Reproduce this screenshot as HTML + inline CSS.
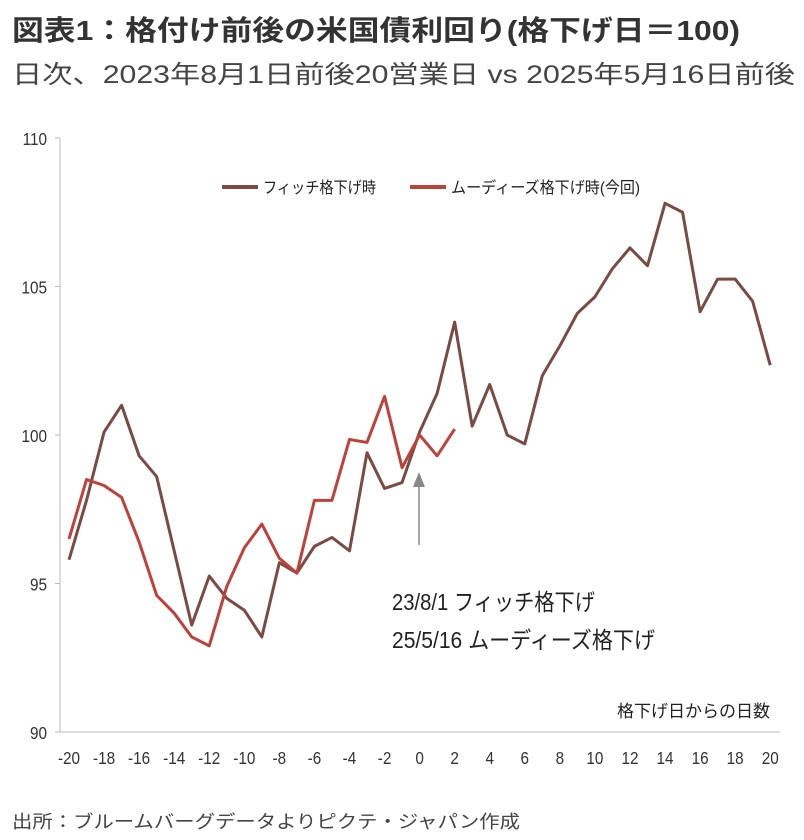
<!DOCTYPE html>
<html><head><meta charset="utf-8"><style>
body{margin:0;background:#fff;width:804px;height:835px;overflow:hidden;font-family:"Liberation Sans","Noto Sans CJK JP",sans-serif;}
</style></head><body>
<svg width="804" height="835" xmlns="http://www.w3.org/2000/svg" font-family="Liberation Sans, Noto Sans CJK JP, sans-serif">
<text x="12" y="40" font-size="28" font-weight="bold" fill="#333" textLength="728" lengthAdjust="spacingAndGlyphs">図表1：格付け前後の米国債利回り(格下げ日＝100)</text>
<text x="12" y="83" font-size="25" fill="#444" textLength="783" lengthAdjust="spacingAndGlyphs">日次、2023年8月1日前後20営業日 vs 2025年5月16日前後</text>
<g id="axes"></g>
<g id="series"></g>
<line x1="419" y1="545" x2="419" y2="485" stroke="#888" stroke-width="1.5"/>
<polygon points="413,487 425,487 419,472" fill="#888"/>
<text x="392" y="610" font-size="23" fill="#222" textLength="203" lengthAdjust="spacingAndGlyphs">23/8/1 フィッチ格下げ</text>
<text x="392" y="648" font-size="23" fill="#222" textLength="263" lengthAdjust="spacingAndGlyphs">25/5/16 ムーディーズ格下げ</text>
<text x="617" y="717" font-size="17" fill="#222" textLength="153" lengthAdjust="spacingAndGlyphs">格下げ日からの日数</text>
<line x1="222" y1="187" x2="258" y2="187" stroke="#7b4a42" stroke-width="4"/>
<text x="263" y="193" font-size="16" fill="#222" textLength="113" lengthAdjust="spacingAndGlyphs">フィッチ格下げ時</text>
<line x1="410" y1="187" x2="446" y2="187" stroke="#c0403a" stroke-width="4"/>
<text x="451" y="193" font-size="16" fill="#222" textLength="189" lengthAdjust="spacingAndGlyphs">ムーディーズ格下げ時(今回)</text>
<text x="12" y="828" font-size="18" fill="#444" textLength="508" lengthAdjust="spacingAndGlyphs">出所：ブルームバーグデータよりピクテ・ジャパン作成</text>
</svg>
<script>
const days=[];for(let d=-20;d<=20;d++)days.push(d);
const fitch=[95.8,97.8,100.1,101.0,99.3,98.6,96.1,93.6,95.25,94.5,94.1,93.2,95.7,95.35,96.25,96.55,96.1,99.4,98.2,98.4,100.1,101.4,103.8,100.3,101.7,100.0,99.7,102.0,103.0,104.1,104.65,105.6,106.3,105.7,107.8,107.5,104.15,105.25,105.25,104.5,102.35];
const moodys=[96.5,98.5,98.3,97.9,96.4,94.6,94.0,93.2,92.9,94.9,96.2,97.0,95.85,95.35,97.8,97.8,99.85,99.75,101.3,98.9,100.0,99.3,100.2];
const yTicks=[90,95,100,105,110];
const xTicks=[-20,-18,-16,-14,-12,-10,-8,-6,-4,-2,0,2,4,6,8,10,12,14,16,18,20];
const NS="http://www.w3.org/2000/svg";
const X=d=>69+(d+20)*17.53;
const Y=v=>732-(v-90)*29.7;
function mk(t,a,p){const e=document.createElementNS(NS,t);for(const k in a)e.setAttribute(k,a[k]);p.appendChild(e);return e;}
const ax=document.getElementById('axes');
const yl=mk('line',{x1:60,y1:138,x2:60,y2:732,stroke:'#bbb','stroke-width':1},ax);


const xl=mk('line',{x1:60,y1:732,x2:780,y2:732,stroke:'#bbb','stroke-width':1},ax);


yTicks.forEach(v=>{
 const t=mk('text',{x:47,y:Y(v)+7,'font-size':18,fill:'#333','text-anchor':'end','transform':'scale(0.85,1)','transform-origin':'47 '+Y(v)},ax);t.textContent=v;
 
 
 const l=mk('line',{x1:55,y1:Y(v),x2:60,y2:Y(v),stroke:'#bbb'},ax);
 
 
});
xTicks.forEach(d=>{
 const t=mk('text',{x:X(d),y:764,'font-size':18,fill:'#333','text-anchor':'middle','transform':'scale(0.85,1)','transform-origin':X(d)+' 764'},ax);t.textContent=d;
 
 
});
const sg=document.getElementById('series');
const p1=mk('polyline',{points:fitch.map((v,i)=>X(days[i])+','+Y(v)).join(' '),fill:'none',stroke:'#7b4a42','stroke-width':3,'stroke-linejoin':'round'},sg);


const p2=mk('polyline',{points:moodys.map((v,i)=>X(days[i])+','+Y(v)).join(' '),fill:'none',stroke:'#c0403a','stroke-width':3,'stroke-linejoin':'round'},sg);


</script>
</body></html>
